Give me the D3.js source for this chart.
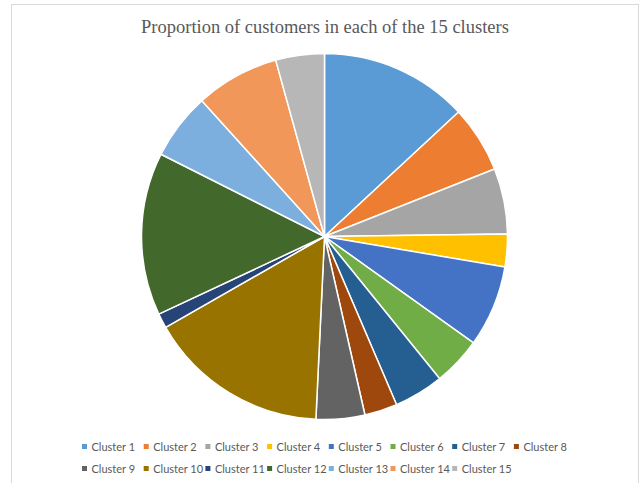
<!DOCTYPE html>
<html>
<head>
<meta charset="utf-8">
<script src="https://cdn.jsdelivr.net/npm/d3@7"></script>
<style>
  html, body { margin: 0; padding: 0; background: #fff; }
  svg { display: block; }
</style>
</head>
<body>
<svg id="chart" width="644" height="483"></svg>
<script>
const title = "Proportion of customers in each of the 15 clusters";
const categories = ["Cluster 1","Cluster 2","Cluster 3","Cluster 4","Cluster 5","Cluster 6","Cluster 7","Cluster 8","Cluster 9","Cluster 10","Cluster 11","Cluster 12","Cluster 13","Cluster 14","Cluster 15"];
const values = [13.1, 5.9, 5.8, 2.9, 7.2, 4.3, 4.4, 2.9, 4.3, 16.0, 1.3, 14.4, 5.9, 7.4, 4.3];
const colors = ["#5B9BD5","#ED7D31","#A5A5A5","#FFC000","#4472C4","#70AD47","#255E91","#9E480E","#636363","#997300","#264478","#43682B","#7CAFDD","#F1975A","#B7B7B7"];

const svg = d3.select("#chart");

// chart border
svg.append("rect")
  .attr("x", 11.5).attr("y", 4.5)
  .attr("width", 627).attr("height", 500)
  .attr("fill", "#fff").attr("stroke", "#d9d9d9").attr("stroke-width", 1);

// title
svg.append("text")
  .attr("x", 325).attr("y", 33)
  .attr("text-anchor", "middle")
  .attr("font-family", "'Liberation Serif', 'Times New Roman', serif")
  .attr("font-size", 18.5)
  .attr("fill", "#595959")
  .text(title);

// pie
const cx = 324.5, cy = 236.5, r = 183;
const data = categories.map((c, i) => ({ name: c, value: values[i] }));
const pie = d3.pie().value(d => d.value).sort(null);
const arc = d3.arc().innerRadius(0).outerRadius(r);
const color = d3.scaleOrdinal().domain(categories).range(colors);

svg.append("g")
  .attr("transform", `translate(${cx},${cy})`)
  .selectAll("path")
  .data(pie(data))
  .join("path")
  .attr("d", arc)
  .attr("fill", d => color(d.data.name))
  .attr("stroke", "#fff")
  .attr("stroke-width", 1.5)
  .attr("stroke-linejoin", "round");

// legend
const perRow = 8;
const colX = d3.scaleLinear().domain([0, 1]).range([82, 143.7]);
const rowY = d3.scaleLinear().domain([0, 1]).range([446.5, 468.5]);
const leg = svg.append("g");
const items = leg.selectAll("g")
  .data(data)
  .join("g")
  .attr("transform", (d, i) => `translate(${colX(i % perRow)},${rowY(Math.floor(i / perRow))})`);
items.append("rect")
  .attr("x", 0).attr("y", -2.5)
  .attr("width", 5).attr("height", 5)
  .attr("fill", d => color(d.name));
items.append("text")
  .attr("x", 9.5).attr("y", 4)
  .attr("font-family", "Lato, 'Liberation Sans', sans-serif")
  .attr("font-size", 11)
  .attr("fill", "#595959")
  .text(d => d.name);
</script>
</body>
</html>
